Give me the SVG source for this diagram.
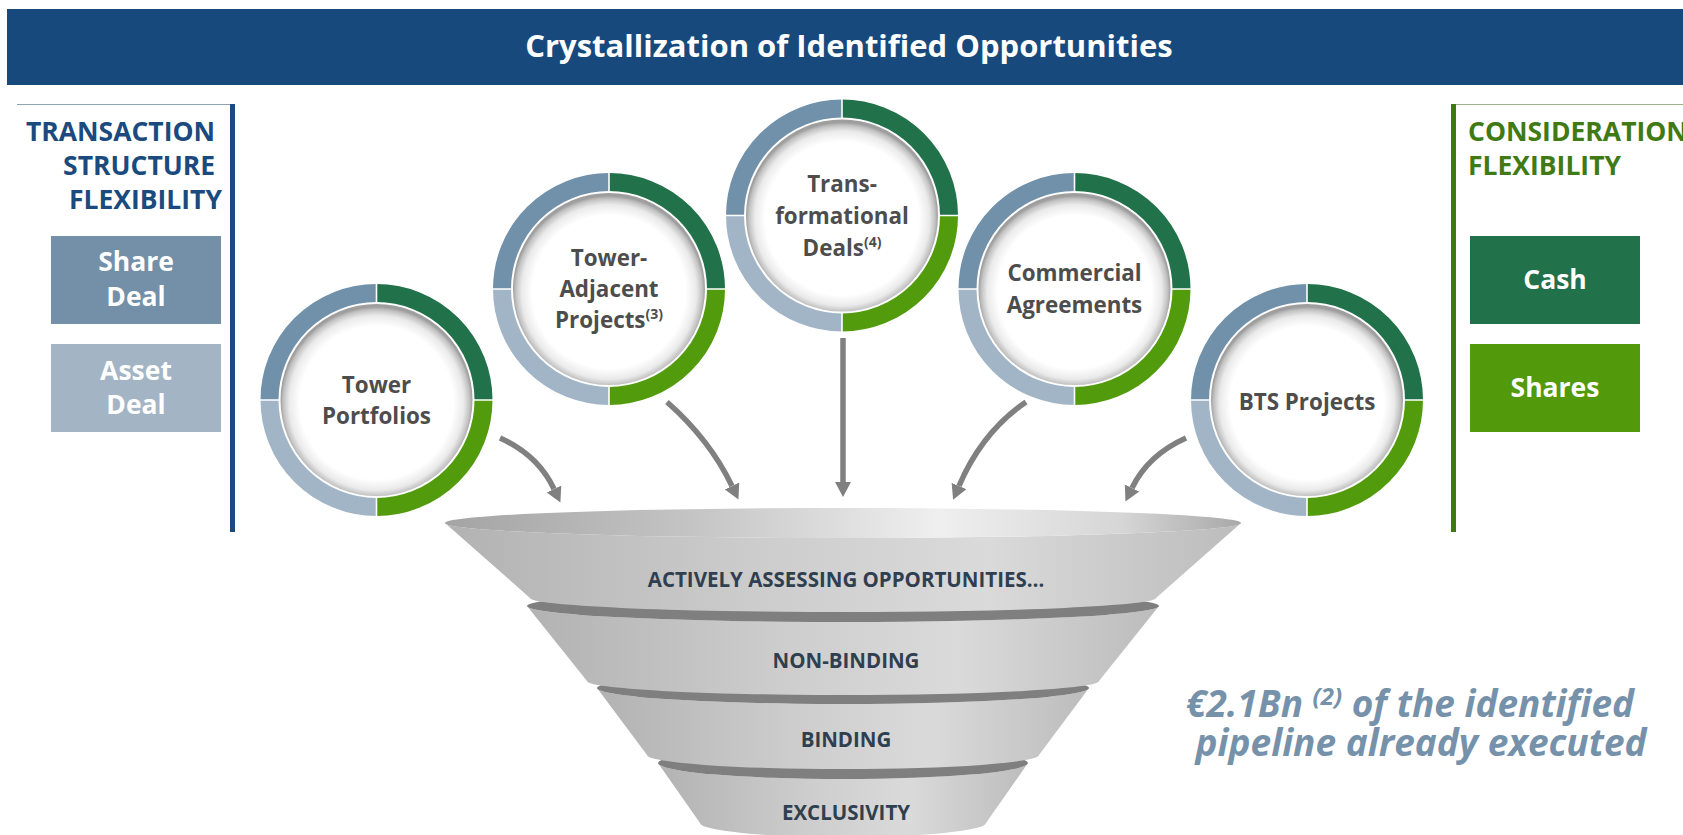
<svg xmlns="http://www.w3.org/2000/svg" xmlns:xlink="http://www.w3.org/1999/xlink" width="1683" height="835" viewBox="0 0 1683 835">
  <style>
    .b { font-family: "Open Sans", "Liberation Sans", sans-serif; font-weight: 700; }
    .title { fill: #ffffff; font-size: 31px; }
    .lhead { fill: #1a4a7e; font-size: 26.5px; }
    .rhead { fill: #3f7a14; font-size: 26.5px; }
    .box { fill: #ffffff; font-size: 26.5px; }
    .node { fill: #4d4d4d; font-size: 22.4px; }
    .sup { font-size: 14px; }
    .stage { fill: #2f3f4f; font-size: 20.5px; }
    .note { fill: #7691aa; font-size: 37px; font-style: italic; }
    .arrow { fill: none; stroke: #808080; stroke-width: 5.5; marker-end: url(#head); }
    .rim { fill: #7f7f7f; }
  </style>
  <defs>
    <marker id="head" markerUnits="userSpaceOnUse" markerWidth="16" markerHeight="17" refX="0" refY="8" orient="auto">
      <path d="M0,0 L15,8 L0,16 z" fill="#808080"/>
    </marker>
    <radialGradient id="disc" cx="50%" cy="51.5%" r="50%">
      <stop offset="0" stop-color="#ffffff"/>
      <stop offset="0.8" stop-color="#ffffff"/>
      <stop offset="0.91" stop-color="#eaeaea"/>
      <stop offset="0.97" stop-color="#c2c2c2"/>
      <stop offset="1" stop-color="#9e9e9e"/>
    </radialGradient>
    <linearGradient id="side" x1="0" y1="0" x2="1" y2="0">
      <stop offset="0" stop-color="#b2b2b2"/>
      <stop offset="0.4" stop-color="#cdcdcd"/>
      <stop offset="0.68" stop-color="#dadada"/>
      <stop offset="1" stop-color="#bcbcbc"/>
    </linearGradient>
    <linearGradient id="lid" x1="0" y1="0" x2="1" y2="0">
      <stop offset="0" stop-color="#a4a4a4"/>
      <stop offset="0.3" stop-color="#c3c3c3"/>
      <stop offset="0.62" stop-color="#efefef"/>
      <stop offset="0.85" stop-color="#d6d6d6"/>
      <stop offset="1" stop-color="#a8a8a8"/>
    </linearGradient>
    <!-- four-quadrant ring with shaded centre disc -->
    <g id="ring">
      <path d="M-107,0 A107,107 0 0 1 0,-107" fill="none" stroke="#7190a9" stroke-width="18"/>
      <path d="M0,-107 A107,107 0 0 1 107,0" fill="none" stroke="#21714a" stroke-width="18"/>
      <path d="M107,0 A107,107 0 0 1 0,107" fill="none" stroke="#529b0c" stroke-width="18"/>
      <path d="M0,107 A107,107 0 0 1 -107,0" fill="none" stroke="#a2b5c6" stroke-width="18"/>
      <path d="M-117,0 H-97 M97,0 H117 M0,-117 V-97 M0,97 V117" stroke="#ffffff" stroke-width="1.6"/>
      <circle r="96" fill="url(#disc)"/>
    </g>
  </defs>

  <!-- header bar -->
  <g id="header">
    <rect x="7" y="9" width="1676" height="76" fill="#17497d"/>
    <text class="b title" x="849" y="57" text-anchor="middle">Crystallization of Identified Opportunities</text>
  </g>

  <!-- transaction structure panel -->
  <g id="structure">
    <line x1="17" y1="104.5" x2="232" y2="104.5" stroke="#8ea3b9" stroke-width="1"/>
    <rect x="230" y="104" width="5" height="428" fill="#1a4a7e"/>
    <text class="b lhead" text-anchor="end">
      <tspan x="222" y="141">TRANSACTION</tspan>
      <tspan x="222" y="175">STRUCTURE</tspan>
      <tspan x="222" y="209">FLEXIBILITY</tspan>
    </text>
  </g>
  <g id="share-deal">
    <rect x="51" y="236" width="170" height="88" fill="#7390a8"/>
    <text class="b box" text-anchor="middle"><tspan x="136" y="271">Share</tspan><tspan x="136" y="306">Deal</tspan></text>
  </g>
  <g id="asset-deal">
    <rect x="51" y="344" width="170" height="88" fill="#a3b5c5"/>
    <text class="b box" text-anchor="middle"><tspan x="136" y="380">Asset</tspan><tspan x="136" y="414">Deal</tspan></text>
  </g>

  <!-- consideration panel -->
  <g id="consideration">
    <line x1="1454" y1="104.5" x2="1683" y2="104.5" stroke="#9db38c" stroke-width="1"/>
    <rect x="1451" y="104" width="5" height="428" fill="#3f7a14"/>
    <text class="b rhead">
      <tspan x="1468" y="141">CONSIDERATION</tspan>
      <tspan x="1468" y="175">FLEXIBILITY</tspan>
    </text>
  </g>
  <g id="cash">
    <rect x="1470" y="236" width="170" height="88" fill="#21714a"/>
    <text class="b box" x="1555" y="289" text-anchor="middle">Cash</text>
  </g>
  <g id="shares">
    <rect x="1470" y="344" width="170" height="88" fill="#529a0c"/>
    <text class="b box" x="1555" y="397" text-anchor="middle">Shares</text>
  </g>

  <!-- opportunity nodes -->
  <g id="tower-portfolios">
    <use xlink:href="#ring" href="#ring" x="376.5" y="400"/>
    <text class="b node" text-anchor="middle"><tspan x="376.5" y="393">Tower</tspan><tspan x="376.5" y="424">Portfolios</tspan></text>
  </g>
  <g id="tower-adjacent">
    <use xlink:href="#ring" href="#ring" x="609" y="289"/>
    <text class="b node" text-anchor="middle"><tspan x="609" y="266">Tower-</tspan><tspan x="609" y="297">Adjacent</tspan><tspan x="609" y="328">Projects<tspan class="sup" dy="-9">(3)</tspan></tspan></text>
  </g>
  <g id="transformational">
    <use xlink:href="#ring" href="#ring" x="842" y="215.5"/>
    <text class="b node" text-anchor="middle"><tspan x="842" y="192">Trans-</tspan><tspan x="842" y="224">formational</tspan><tspan x="842" y="256">Deals<tspan class="sup" dy="-9">(4)</tspan></tspan></text>
  </g>
  <g id="commercial">
    <use xlink:href="#ring" href="#ring" x="1074.5" y="289"/>
    <text class="b node" text-anchor="middle"><tspan x="1074.5" y="281">Commercial</tspan><tspan x="1074.5" y="313">Agreements</tspan></text>
  </g>
  <g id="bts">
    <use xlink:href="#ring" href="#ring" x="1307" y="400"/>
    <text class="b node" x="1307" y="410" text-anchor="middle">BTS Projects</text>
  </g>

  <!-- connectors into the funnel -->
  <g id="connectors">
    <path class="arrow" d="M500,438 Q538,455 554,489"/>
    <path class="arrow" d="M667,402 Q710,440 732,486"/>
    <path class="arrow" d="M843,338 L843,482"/>
    <path class="arrow" d="M1026,402 Q982,432 959,486"/>
    <path class="arrow" d="M1186,438 Q1148,455 1132,488"/>
  </g>

  <!-- pipeline funnel, drawn bottom stage first -->
  <g id="funnel">
    <g id="stage-exclusivity">
      <path d="M658,763 L700,823 A143,14 0 0 0 986,823 L1028,763 A185,16 0 0 1 658,763 Z" fill="url(#side)"/>
      <ellipse class="rim" cx="843" cy="763" rx="185" ry="16"/>
    </g>
    <g id="stage-binding">
      <path d="M597,688 L647,755 A196,14 0 0 0 1039,755 L1089,688 A246,16 0 0 1 597,688 Z" fill="url(#side)"/>
      <ellipse class="rim" cx="843" cy="688" rx="246" ry="16"/>
    </g>
    <g id="stage-nonbinding">
      <path d="M527,606 L587,681 A256,14 0 0 0 1099,681 L1159,606 A316,16 0 0 1 527,606 Z" fill="url(#side)"/>
      <ellipse class="rim" cx="843" cy="606" rx="316" ry="16"/>
    </g>
    <g id="stage-assessing">
      <path d="M445,523 L530,598 A313,14 0 0 0 1156,598 L1241,523 A398,15 0 0 1 445,523 Z" fill="url(#side)"/>
      <ellipse cx="843" cy="523" rx="398" ry="15" fill="url(#lid)"/>
    </g>
    <text class="b stage" x="846" y="587" text-anchor="middle">ACTIVELY ASSESSING OPPORTUNITIES…</text>
    <text class="b stage" x="846" y="668" text-anchor="middle">NON-BINDING</text>
    <text class="b stage" x="846" y="747" text-anchor="middle">BINDING</text>
    <text class="b stage" x="846" y="820" text-anchor="middle">EXCLUSIVITY</text>
  </g>

  <!-- executed pipeline note -->
  <g id="note">
    <text class="b note" x="1410" y="717" text-anchor="middle">€2.1Bn <tspan font-size="24" baseline-shift="12">(2)</tspan> of the identified</text>
    <text class="b note" x="1421" y="756" text-anchor="middle">pipeline already executed</text>
  </g>
</svg>
